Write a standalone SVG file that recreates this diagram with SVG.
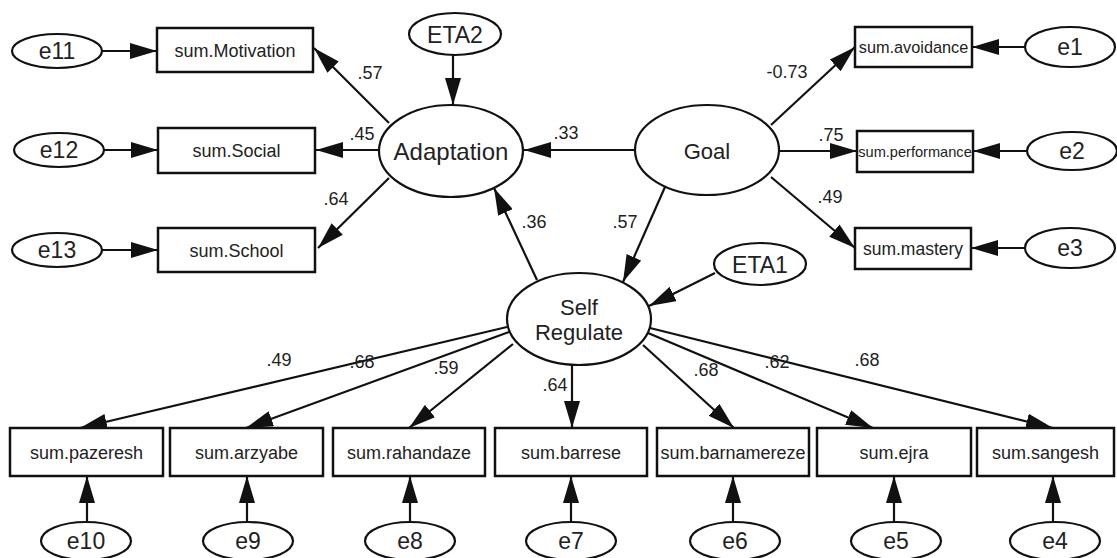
<svg xmlns="http://www.w3.org/2000/svg" width="1117" height="558" viewBox="0 0 1117 558">
<defs>
<style>
text{font-family:"Liberation Sans",Arial,sans-serif;fill:#222;text-anchor:middle}
.box{fill:#fff;stroke:#111;stroke-width:2.5}
.lat{fill:#fff;stroke:#111;stroke-width:2.2}
.err{fill:#fff;stroke:#111;stroke-width:2.2}
.con line{stroke:#111;stroke-width:2.2;marker-end:url(#ah)}
.bl{font-size:18px}
.el{font-size:23px}
.lb{font-size:18px}
</style>
<marker id="ah" markerUnits="userSpaceOnUse" markerWidth="27" markerHeight="16" refX="27" refY="8" orient="auto" viewBox="0 0 27 16">
<path d="M0,0 L27,8 L0,16 Z" fill="#111"/>
</marker>
</defs>
<rect width="1117" height="558" fill="#fff"/>

<g id="connectors" class="con">
<line x1="102" y1="51" x2="157" y2="51"/>
<line x1="104" y1="150" x2="158" y2="150"/>
<line x1="102" y1="250" x2="158" y2="250"/>
<line x1="389" y1="123" x2="314" y2="48"/>
<line x1="379" y1="150" x2="316" y2="150"/>
<line x1="389" y1="178" x2="318" y2="248"/>
<line x1="453" y1="55" x2="453" y2="105"/>
<line x1="635" y1="150" x2="524" y2="150"/>
<line x1="537" y1="280" x2="494" y2="188"/>
<line x1="771" y1="125" x2="855" y2="47"/>
<line x1="780" y1="151" x2="857" y2="151"/>
<line x1="771" y1="177" x2="855" y2="248"/>
<line x1="665" y1="187" x2="623" y2="282"/>
<line x1="715" y1="273" x2="649" y2="306"/>
<line x1="1025" y1="47" x2="972" y2="47"/>
<line x1="1027" y1="151" x2="973" y2="151"/>
<line x1="1025" y1="248" x2="971" y2="248"/>
<line x1="507" y1="327" x2="80" y2="428"/>
<line x1="509" y1="332" x2="246" y2="428"/>
<line x1="513" y1="344" x2="409" y2="428"/>
<line x1="572" y1="365" x2="572" y2="428"/>
<line x1="643" y1="345" x2="734" y2="428"/>
<line x1="648" y1="333" x2="873" y2="428"/>
<line x1="650" y1="328" x2="1053" y2="428"/>
<line x1="87" y1="522" x2="87" y2="476"/>
<line x1="247" y1="522" x2="247" y2="476"/>
<line x1="410" y1="522" x2="410" y2="476"/>
<line x1="571" y1="522" x2="571" y2="476"/>
<line x1="733" y1="522" x2="733" y2="476"/>
<line x1="894" y1="522" x2="894" y2="476"/>
<line x1="1053" y1="522" x2="1053" y2="476"/>
</g>

<g id="labels" class="lb">
<text x="370" y="79">.57</text>
<text x="362" y="140">.45</text>
<text x="336" y="205">.64</text>
<text x="534" y="228">.36</text>
<text x="566" y="139">.33</text>
<text x="787" y="78">-0.73</text>
<text x="831" y="141">.75</text>
<text x="830" y="203">.49</text>
<text x="625" y="228">.57</text>
<text x="279" y="366">.49</text>
<text x="362" y="368">.68</text>
<text x="446" y="374">.59</text>
<text x="555" y="391">.64</text>
<text x="706" y="376">.68</text>
<text x="777" y="368">.62</text>
<text x="867" y="366">.68</text>
</g>

<g id="Adaptation"><ellipse class="lat" cx="451" cy="151" rx="72" ry="46"/><text x="451" y="160" style="font-size:24px">Adaptation</text></g>
<g id="Goal"><ellipse class="lat" cx="707" cy="150" rx="72" ry="45"/><text x="707" y="158.5" style="font-size:22px">Goal</text></g>
<g id="SelfRegulate"><ellipse class="lat" cx="579" cy="319" rx="72" ry="46"/><text x="579" y="315" style="font-size:22px">Self</text><text x="579" y="340" style="font-size:22px">Regulate</text></g>
<g id="ETA2"><ellipse class="err" cx="455" cy="34" rx="46" ry="21"/><text class="el" x="455" y="42.5">ETA2</text></g>
<g id="ETA1"><ellipse class="err" cx="760" cy="264" rx="46" ry="21"/><text class="el" x="760" y="272.5">ETA1</text></g>

<g id="sumMotivation"><rect class="box" x="157" y="28" width="156" height="44"/><text class="bl" x="235" y="56.5">sum.Motivation</text></g>
<g id="sumSocial"><rect class="box" x="158" y="128" width="157" height="45"/><text class="bl" x="236.5" y="157">sum.Social</text></g>
<g id="sumSchool"><rect class="box" x="158" y="228" width="157" height="44"/><text class="bl" x="236.5" y="256.5">sum.School</text></g>
<g id="e11"><ellipse class="err" cx="57" cy="51" rx="45" ry="17"/><text class="el" x="57" y="59">e11</text></g>
<g id="e12"><ellipse class="err" cx="59" cy="150" rx="45" ry="17"/><text class="el" x="59" y="158">e12</text></g>
<g id="e13"><ellipse class="err" cx="57" cy="250" rx="45" ry="17"/><text class="el" x="57" y="258">e13</text></g>

<g id="sumAvoidance"><rect class="box" x="855" y="27" width="117" height="40"/><text x="913.5" y="53" style="font-size:16.3px">sum.avoidance</text></g>
<g id="sumPerformance"><rect class="box" x="857" y="131" width="116" height="41"/><text x="915" y="157" style="font-size:14.6px">sum.performance</text></g>
<g id="sumMastery"><rect class="box" x="855" y="228" width="116" height="41"/><text x="913" y="255" style="font-size:17.5px">sum.mastery</text></g>
<g id="e1"><ellipse class="err" cx="1070" cy="47" rx="45" ry="20"/><text class="el" x="1070" y="55">e1</text></g>
<g id="e2"><ellipse class="err" cx="1072" cy="151" rx="45" ry="19"/><text class="el" x="1072" y="159">e2</text></g>
<g id="e3"><ellipse class="err" cx="1070" cy="248" rx="45" ry="20"/><text class="el" x="1070" y="256">e3</text></g>

<g id="sumPazeresh"><rect class="box" x="10" y="428" width="153" height="48"/><text class="bl" x="86.5" y="458.5">sum.pazeresh</text></g>
<g id="sumArzyabe"><rect class="box" x="170" y="428" width="153" height="48"/><text class="bl" x="246.5" y="458.5">sum.arzyabe</text></g>
<g id="sumRahandaze"><rect class="box" x="333" y="428" width="152" height="48"/><text class="bl" x="409" y="458.5">sum.rahandaze</text></g>
<g id="sumBarrese"><rect class="box" x="495" y="428" width="152" height="48"/><text class="bl" x="571" y="458.5">sum.barrese</text></g>
<g id="sumBarnamereze"><rect class="box" x="657" y="428" width="152" height="48"/><text class="bl" x="733" y="458.5">sum.barnamereze</text></g>
<g id="sumEjra"><rect class="box" x="817" y="428" width="154" height="48"/><text class="bl" x="894" y="458.5">sum.ejra</text></g>
<g id="sumSangesh"><rect class="box" x="977" y="428" width="137" height="48"/><text class="bl" x="1045.5" y="458.5">sum.sangesh</text></g>

<g id="e10"><ellipse class="err" cx="86" cy="541" rx="45" ry="19"/><text class="el" x="86" y="549">e10</text></g>
<g id="e9"><ellipse class="err" cx="248" cy="541" rx="45" ry="19"/><text class="el" x="248" y="549">e9</text></g>
<g id="e8"><ellipse class="err" cx="410" cy="541" rx="45" ry="19"/><text class="el" x="410" y="549">e8</text></g>
<g id="e7"><ellipse class="err" cx="571" cy="541" rx="45" ry="19"/><text class="el" x="571" y="549">e7</text></g>
<g id="e6"><ellipse class="err" cx="735" cy="541" rx="45" ry="19"/><text class="el" x="735" y="549">e6</text></g>
<g id="e5"><ellipse class="err" cx="896" cy="541" rx="45" ry="19"/><text class="el" x="896" y="549">e5</text></g>
<g id="e4"><ellipse class="err" cx="1055" cy="541" rx="45" ry="19"/><text class="el" x="1055" y="549">e4</text></g>
</svg>
